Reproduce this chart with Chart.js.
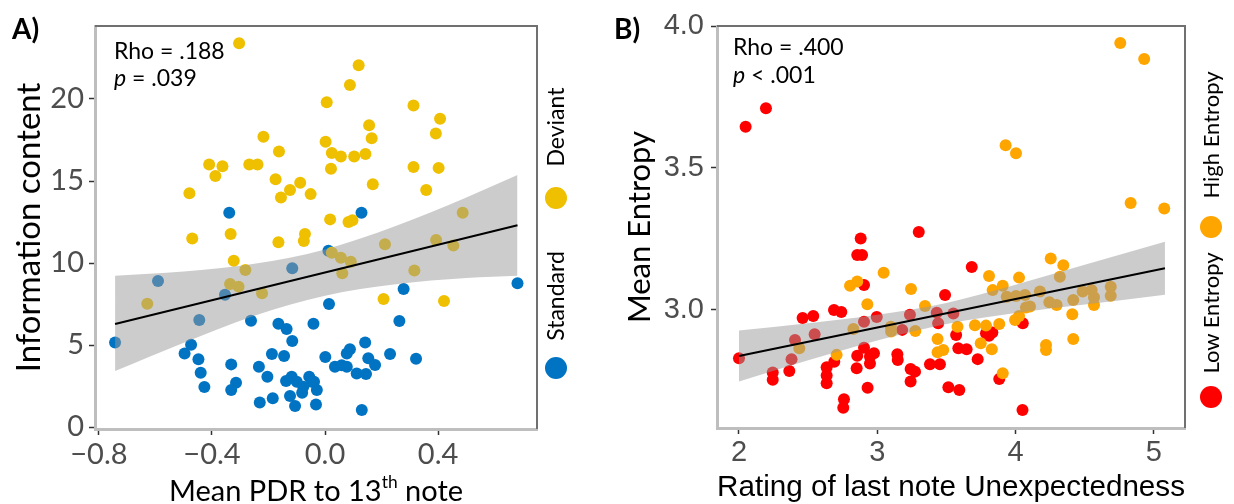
<!DOCTYPE html>
<html><head><meta charset="utf-8">
<script src="https://cdn.jsdelivr.net/npm/chart.js@4.4.1/dist/chart.umd.min.js"></script>
<style>
body{margin:0;width:1234px;height:504px;overflow:hidden;background:#fff;position:relative;font-family:Lato,"Open Sans",sans-serif}
canvas{position:absolute;top:0}
#ca{left:0;width:600px;height:504px}
#cb{left:600px;width:634px;height:504px}
.t{position:absolute;white-space:nowrap;color:#000;line-height:1.2}
.rot{transform:translate(-50%,-50%) rotate(-90deg)}
.dot{position:absolute;border-radius:50%;width:22px;height:22px;transform:translate(-50%,-50%)}
sup{font-size:60%;vertical-align:0.7em;line-height:0}
</style></head><body>
<canvas id="ca" width="600" height="504"></canvas>
<canvas id="cb" width="634" height="504"></canvas>

<div class="t" style="left:12px;top:12px;font-weight:bold;font-size:28px">A)</div>
<div class="t" style="left:614px;top:12px;font-weight:bold;font-size:28px">B)</div>
<div class="t" style="left:114px;top:37px;font-size:23px">Rho = .188</div>
<div class="t" style="left:114px;top:64px;font-size:23px"><i>p</i> = .039</div>
<div class="t" style="left:733px;top:33px;font-size:23px">Rho = .400</div>
<div class="t" style="left:733px;top:61px;font-size:23px"><i>p</i> &lt; .001</div>
<div class="t" style="left:316px;top:490px;transform:translate(-50%,-50%);font-size:29px">Mean PDR to 13<sup>th</sup> note</div>

<div class="t rot" style="left:556px;top:127px;font-size:23px">Deviant</div>
<div class="dot" style="left:556px;top:198px;background:#EFC000"></div>
<div class="t rot" style="left:556px;top:296px;font-size:23px">Standard</div>
<div class="dot" style="left:556px;top:368px;background:#0073C2"></div>

<div class="t rot" style="left:1211px;top:135px;font-size:22px">High Entropy</div>
<div class="dot" style="left:1211px;top:227px;background:#FFA500"></div>
<div class="t rot" style="left:1211px;top:313px;font-size:22px">Low Entropy</div>
<div class="dot" style="left:1211px;top:397px;background:#FF0000"></div>

<script>
// ---------- Panel A data ----------
const deviantA = [
 [-0.304,23.4],[-0.218,17.7],[-0.163,16.8],[-0.41,16.0],[-0.363,15.9],[-0.268,16.0],[-0.239,16.0],[-0.388,15.3],[-0.175,15.1],[-0.088,14.9],[-0.124,14.45],[-0.156,14.0],[-0.051,14.2],[-0.48,14.25],
 [0.119,22.05],[0.088,20.85],[0.006,19.8],[0.313,19.6],[0.407,18.8],[0.156,18.4],[0.392,17.9],[0.165,17.6],[0.002,17.4],[0.024,16.7],[0.056,16.5],[0.103,16.5],[0.143,16.65],[0.021,15.75],[0.313,15.85],[0.402,15.8],[0.169,14.8],[0.358,14.45],[0.018,12.66],[0.083,12.5],[0.097,12.6],[0.487,13.07],
 [-0.47,11.5],[-0.334,11.77],[-0.165,11.26],[-0.071,11.77],[-0.075,11.34],[-0.323,10.14],[-0.282,9.57],[-0.336,8.72],[-0.306,8.56],[-0.223,8.15],[-0.629,7.52],
 [0.212,11.14],[0.393,11.4],[0.454,11.06],[0.024,10.63],[0.056,10.32],[0.091,10.08],[0.061,9.37],[0.316,9.55],[0.207,7.8],[0.421,7.68]
];
const standardA = [
 [-0.339,13.07],[0.129,13.07],[-0.116,9.68],[-0.591,8.9],[-0.354,8.07],[-0.445,6.52],[-0.262,6.48],[-0.165,6.3],[-0.136,5.98],[-0.041,6.3],[-0.743,5.16],[-0.474,5.02],[-0.116,5.24],[-0.497,4.49],[-0.188,4.45],[-0.145,4.33],[-0.448,4.13],[-0.332,3.82],[-0.234,3.68],[-0.44,3.31],[-0.204,3.07],[-0.315,2.7],[-0.332,2.26],[-0.427,2.44],[-0.138,2.8],[-0.118,3.07],[-0.1,2.76],[-0.077,2.46],[-0.056,3.07],[-0.039,2.76],[-0.029,2.26],[-0.081,2.09],[-0.124,1.89],[-0.185,1.75],[-0.231,1.5],[-0.106,1.28],[-0.032,1.38],
 [0.012,10.75],[0.681,8.76],[0.278,8.41],[0.014,7.5],[0.263,6.46],[0.142,5.16],[0.088,4.74],[0.077,4.49],[0.001,4.27],[0.153,4.19],[0.177,3.78],[0.23,4.45],[0.322,4.17],[0.035,3.68],[0.059,3.76],[0.077,3.68],[0.112,3.27],[0.145,3.23],[0.13,1.04],[-0.047,2.76]
];
const fitAX = [-0.743, 0.681];
const fitAY = [6.28, 12.3];
const bandAX = [-0.743,-0.5,-0.25,0,0.25,0.5,0.681];
const bandAUpper = [9.22,9.48,9.95,10.83,12.26,14.0,15.37];
const bandALower = [3.41,5.14,6.79,8.01,8.7,9.08,9.22];
const ticksAX = [-0.8,-0.4,0,0.4];
const tickLabelsAX = ["\u22120.8","\u22120.4","0.0","0.4"];
const ticksAY = [0,5,10,15,20];
const tickLabelsAY = ["0","5","10","15","20"];

// ---------- Panel B data ----------
const lowEntropyB = [
 [2.195,3.71],[2.048,3.645],[3.30,3.275],[2.88,3.252],[2.855,3.194],[2.89,3.194],[2.904,3.088],[3.49,3.053],[2.687,3.0],[2.74,2.993],[2.46,2.972],[2.537,2.979],[2.996,2.975],[3.236,2.983],[3.43,2.99],[3.55,2.988],[2.904,2.959],[3.44,2.953],[2.547,2.915],[3.18,2.93],[3.57,2.912],[2.405,2.894],[2.38,2.827],[3.586,2.865],[2.0,2.83],[2.689,2.818],[2.904,2.867],[2.855,2.839],[2.976,2.848],[2.947,2.836],[2.947,2.812],[2.851,2.795],[3.145,2.844],[3.148,2.824],[2.634,2.798],[2.634,2.769],[2.634,2.742],[2.244,2.78],[2.244,2.754],[2.364,2.785],[3.241,2.792],[3.273,2.783],[3.241,2.748],[3.381,2.809],[3.453,2.809],[2.93,2.726],[3.514,2.728],[2.759,2.686],[2.754,2.656],[3.593,2.718],
 [3.683,3.151],[4.052,2.953],[3.786,2.918],[3.832,2.921],[3.808,2.909],[3.646,2.862],[3.726,2.827],[3.882,2.757],[4.05,2.648]
];
const highEntropyB = [
 [4.757,3.94],[4.93,3.884],[3.928,3.58],[4.003,3.552],[4.832,3.377],[5.075,3.357],
 [3.046,3.131],[2.803,3.085],[2.855,3.10],[3.244,3.074],[2.928,3.02],[3.345,3.014],[3.58,2.941],[2.827,2.933],[3.098,2.941],[3.10,2.924],[3.275,2.926],[2.436,2.865],[3.436,2.898],[3.436,2.851],[3.477,2.859],[2.706,2.842],
 [4.254,3.181],[4.345,3.158],[3.808,3.12],[4.025,3.114],[3.834,3.07],[3.907,3.085],[3.936,3.047],[4.32,3.117],[4.003,3.049],[4.068,3.053],[4.176,3.065],[4.485,3.065],[4.55,3.07],[4.567,3.045],[4.688,3.082],[4.688,3.05],[4.075,3.009],[4.104,3.012],[4.244,3.027],[4.297,3.018],[4.417,3.035],[4.567,3.018],[4.41,2.985],[4.025,2.979],[3.996,2.965],[3.706,2.946],[3.786,2.945],[3.882,2.951],[3.748,2.883],[4.417,2.898],[3.828,2.862],[4.22,2.877],[4.22,2.859],[3.907,2.777]
];
const fitBX = [2.0, 5.08];
const fitBY = [2.838, 3.147];
const bandBX = [2.0,2.5,3.0,3.5,4.0,4.5,5.08];
const bandBUpper = [2.928,2.953,2.983,3.025,3.089,3.159,3.240];
const bandBLower = [2.748,2.823,2.893,2.951,2.989,3.019,3.054];
const ticksBX = [2,3,4,5];
const tickLabelsBX = ["2","3","4","5"];
const ticksBY = [3.0,3.5,4.0];
const tickLabelsBY = ["3.0","3.5","4.0"];

// ---------- helpers ----------
const pts = a => a.map(([x,y]) => ({x,y}));
const xy = (xs,ys) => xs.map((x,i) => ({x, y: ys[i]}));

const frame = {id:'frame', afterDatasetsDraw(c){
  const {ctx, chartArea:a} = c;
  ctx.save(); ctx.strokeStyle='#707070'; ctx.lineWidth=2;
  ctx.beginPath(); ctx.moveTo(a.left,a.top); ctx.lineTo(a.right,a.top); ctx.lineTo(a.right,a.bottom); ctx.stroke();
  ctx.restore();
}};

function axis(min,max,ticks,labels,font,size,isX,tickPad,title){
  return {
    type:'linear', min, max,
    afterBuildTicks: s => { s.ticks = ticks.map(v => ({value:v})); },
    afterFit: s => { if(isX) s.height=size; else s.width=size; s.paddingLeft=0; s.paddingRight=0; s.paddingTop=0; s.paddingBottom=0; },
    ticks:{callback:(v,i)=>labels[i], font, color:'#4D4D4D', padding:tickPad, maxRotation:0, autoSkip:false},
    grid:{drawOnChartArea:false, drawTicks:true, tickLength:6, tickColor:'#333333', tickWidth:1.5},
    border:{display:true, color:'#BEBEBE', width:3},
    title: title || {display:false}
  };
}

function band(xs,up,lo){
  return [
    {type:'line', data:xy(xs,up), borderWidth:0, borderColor:'rgba(0,0,0,0)', pointRadius:0, fill:'+1', backgroundColor:'rgba(153,153,153,0.5)', cubicInterpolationMode:'monotone', order:2},
    {type:'line', data:xy(xs,lo), borderWidth:0, borderColor:'rgba(0,0,0,0)', pointRadius:0, fill:false, cubicInterpolationMode:'monotone', order:2}
  ];
}

const common = {responsive:false, animation:false, events:[],
  plugins:{legend:{display:false}, tooltip:{enabled:false}}};

// Panel A
new Chart(document.getElementById('ca'), {
  type:'scatter',
  data:{datasets:[
    {label:'Deviant', data:pts(deviantA), backgroundColor:'#EFC000', borderWidth:0, pointRadius:6, order:3},
    {label:'Standard', data:pts(standardA), backgroundColor:'#0073C2', borderWidth:0, pointRadius:6, order:4},
    ...band(bandAX,bandAUpper,bandALower),
    {type:'line', data:xy(fitAX,fitAY), borderColor:'#000', borderWidth:2, pointRadius:0, fill:false, order:1}
  ]},
  options:{...common,
    layout:{padding:{left:0,top:26,right:63,bottom:0}},
    scales:{
      x: axis(-0.814,0.750,ticksAX,tickLabelsAX,{family:'Lato',size:29},75,true,2),
      y: axis(-0.12,24.45,ticksAY,tickLabelsAY,{family:'Lato',size:29},95,false,5,
         {display:true,text:'Information content',color:'#000',font:{family:'Lato',size:33},padding:{top:10}})
    }
  },
  plugins:[frame]
});

// Panel B
new Chart(document.getElementById('cb'), {
  type:'scatter',
  data:{datasets:[
    {label:'High Entropy', data:pts(highEntropyB), backgroundColor:'#FFA500', borderWidth:0, pointRadius:6, order:3},
    {label:'Low Entropy', data:pts(lowEntropyB), backgroundColor:'#FF0000', borderWidth:0, pointRadius:6, order:4},
    ...band(bandBX,bandBUpper,bandBLower),
    {type:'line', data:xy(fitBX,fitBY), borderColor:'#000', borderWidth:2, pointRadius:0, fill:false, order:1}
  ]},
  options:{...common,
    layout:{padding:{left:0,top:26,right:49,bottom:0}},
    scales:{
      x: axis(1.841,5.225,ticksBX,tickLabelsBX,{family:'Liberation Sans',size:29},76,true,2,
         {display:true,text:'Rating of last note Unexpectedness',color:'#000',font:{family:'Liberation Sans',size:30,lineHeight:1},padding:{bottom:1}}),
      y: axis(2.5845,4.0,ticksBY,tickLabelsBY,{family:'Liberation Sans',size:29},117,false,7,
         {display:true,text:'Mean Entropy',color:'#000',font:{family:'Lato',size:31},padding:{top:21}})
    }
  },
  plugins:[frame]
});
</script>
</body></html>
